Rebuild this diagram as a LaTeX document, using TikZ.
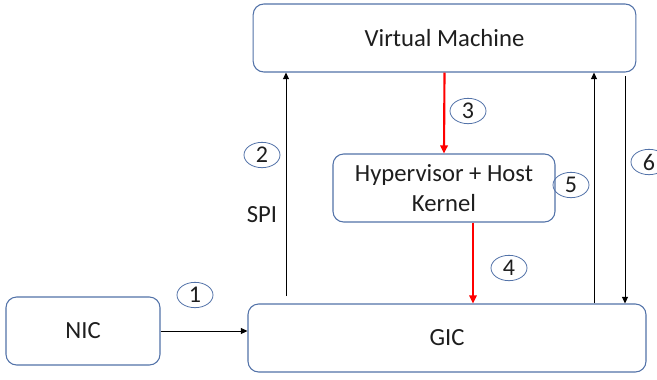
\documentclass[tikz,border=0pt]{standalone}
\usepackage{fontspec}
\setmainfont{Carlito}
\usetikzlibrary{arrows.meta,shapes.geometric}
\definecolor{boxline}{RGB}{82,114,168}
\definecolor{txt}{RGB}{30,30,30}

\begin{document}
\begin{tikzpicture}[x=0.75pt,y=-0.75pt, text=txt,
  block/.style={draw=boxline, line width=0.8pt, rounded corners=8pt, minimum height=51pt, align=center, font=\fontsize{18.5}{23}\selectfont},
  num/.style={draw=boxline, ellipse, line width=0.6pt, inner sep=0pt, minimum width=27pt, minimum height=19pt, font=\fontsize{18}{20}\selectfont},
  flow/.style={-{Triangle[length=5pt,width=4.5pt]}, line width=0.6pt},
  redflow/.style={-{Triangle[length=6pt,width=5.5pt]}, draw=red, line width=1.6pt}]
\useasboundingbox (0,0) rectangle (657,379);
% boxes
\node[block, minimum width=287pt] (vm) at (444.5,38) {Virtual Machine};
\node[block, minimum width=166.5pt] (hyp) at (444,188) {Hypervisor + Host\\Kernel};
\node[block, minimum width=115.5pt] (nic) at (83,331) {NIC};
\node[block, minimum width=298.5pt] (gic) at (447,338) {GIC};
% helper coordinates
\coordinate (spi) at (286,296);
\coordinate (x4) at (473,0);
\coordinate (x5) at (594,0);
\coordinate (x6) at (625,76);
% connectors
\draw[flow] (nic.east) -- (nic.east -| gic.west);
\draw[flow] (spi) -- (spi |- vm.south);
\draw[redflow] (vm.south) -- (hyp.north);
\draw[redflow] (x4 |- hyp.south) -- (x4 |- gic.north);
\draw[flow] (x5 |- gic.north) -- (x5 |- vm.south);
\draw[flow] (x6) -- (x6 |- gic.north);
% labels
\node[font=\fontsize{18.5}{22}\selectfont] (spilbl) at (262,215) {SPI};
\node[num] (n1) at (195,295) {1};
\node[num] (n2) at (262,155) {2};
\node[num] (n3) at (468,111) {3};
\node[num] (n4) at (509,268) {4};
\node[num] (n5) at (571,185) {5};
\node[num] (n6) at (649,162) {6};
\end{tikzpicture}
\end{document}
